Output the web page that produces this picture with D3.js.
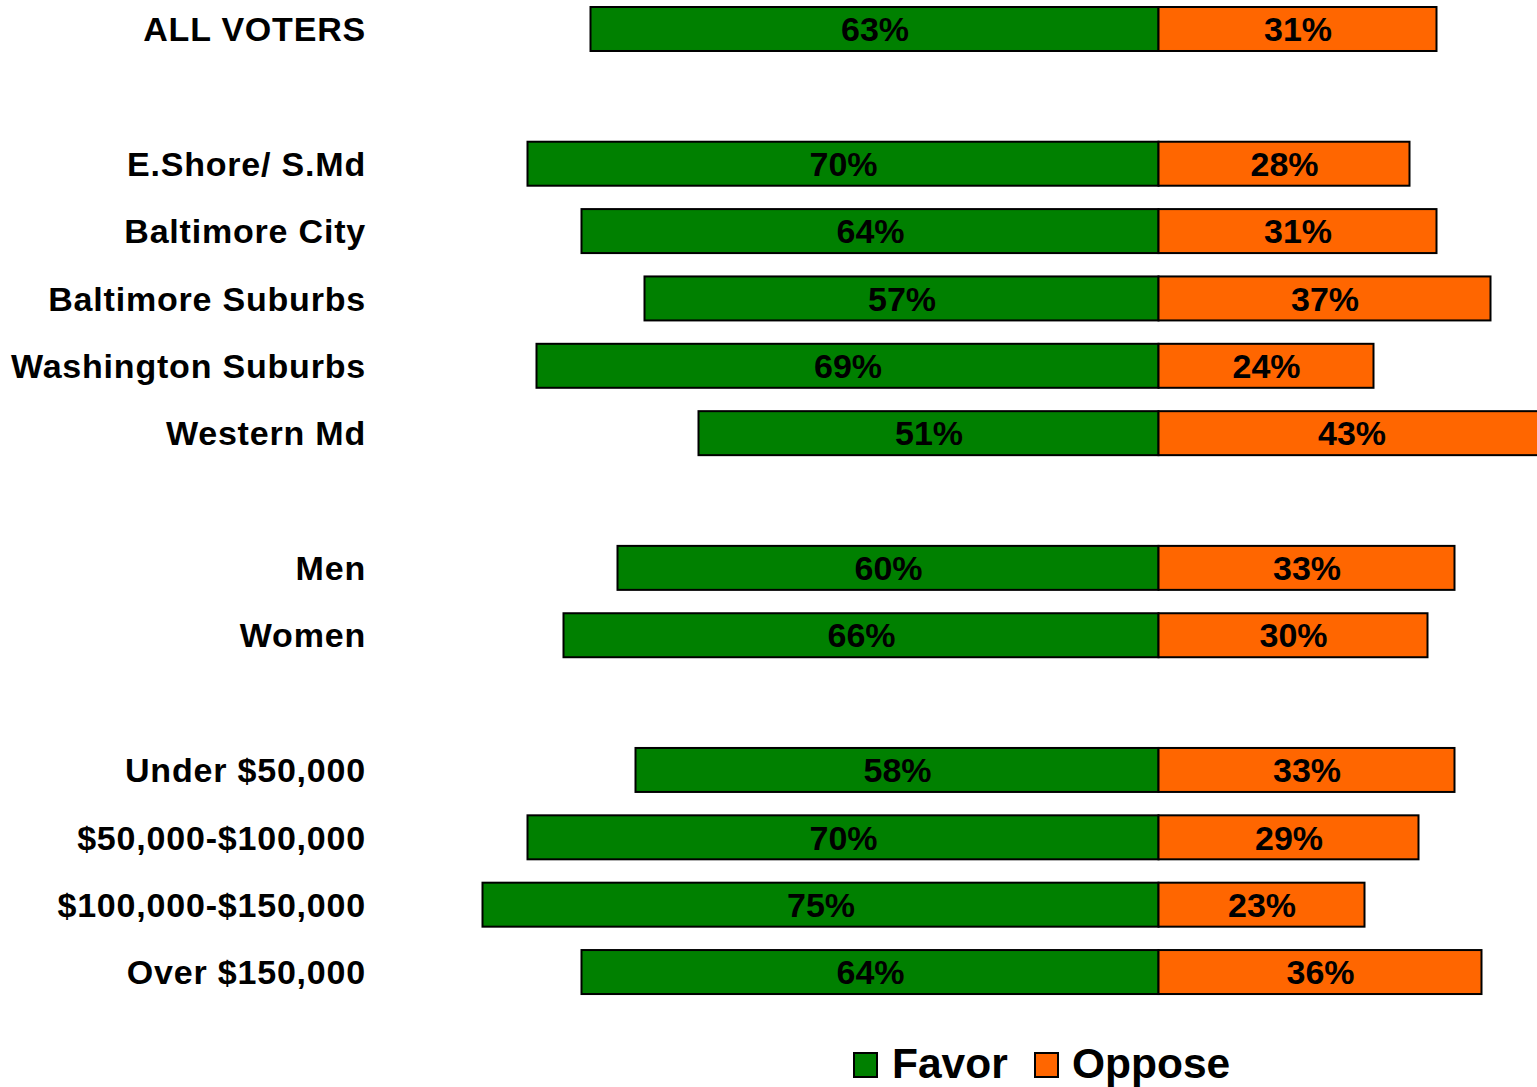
<!DOCTYPE html>
<html>
<head>
<meta charset="utf-8">
<script src="https://cdn.jsdelivr.net/npm/d3@7"></script>
<style>
  html, body { margin: 0; padding: 0; background: #fff; }
  svg { display: block; }
  text { font-family: "Liberation Sans", Arial, sans-serif; font-weight: bold; fill: #000; }
</style>
</head>
<body>
<svg id="chart" width="1537" height="1087"></svg>
<script>
// Data (null = spacer row)
const categories = ["ALL VOTERS", null, "E.Shore/ S.Md", "Baltimore City", "Baltimore Suburbs", "Washington Suburbs", "Western Md", null, "Men", "Women", null, "Under $50,000", "$50,000-$100,000", "$100,000-$150,000", "Over $150,000"];
const favor  = [63, null, 70, 64, 57, 69, 51, null, 60, 66, null, 58, 70, 75, 64];
const oppose = [31, null, 28, 31, 37, 24, 43, null, 33, 30, null, 33, 29, 23, 36];
const seriesNames = ["Favor", "Oppose"];
const seriesColors = ["#008000", "#FF6600"];

const W = 1537, H = 1087;
const svg = d3.select("#chart");

const cx = 1158.5, pxPer = 9.0;
const x = d3.scaleLinear().domain([-100, 100]).range([cx - 100 * pxPer, cx + 100 * pxPer]);

const step = 67.36;
const y = d3.scaleBand()
  .domain(d3.range(categories.length))
  .range([29 - step / 2, 29 - step / 2 + step * categories.length])
  .paddingInner(0.347)
  .paddingOuter(0.1735);

const rows = d3.range(categories.length).filter(i => categories[i] !== null);

const g = svg.append("g");

// Favor bars (extend left)
g.selectAll("rect.favor").data(rows).join("rect")
  .attr("class", "favor")
  .attr("x", i => x(-favor[i]) - 1)
  .attr("y", i => y(i))
  .attr("width", i => x(0) - x(-favor[i]) + 1)
  .attr("height", y.bandwidth())
  .attr("fill", seriesColors[0])
  .attr("stroke", "#000")
  .attr("stroke-width", 2);

// Oppose bars (extend right)
g.selectAll("rect.oppose").data(rows).join("rect")
  .attr("class", "oppose")
  .attr("x", x(0))
  .attr("y", i => y(i))
  .attr("width", i => x(oppose[i]) - x(0) - 1)
  .attr("height", y.bandwidth())
  .attr("fill", seriesColors[1])
  .attr("stroke", "#000")
  .attr("stroke-width", 2);

// Value labels
g.selectAll("text.fv").data(rows).join("text")
  .attr("class", "fv")
  .attr("x", i => (x(-favor[i]) + x(0)) / 2)
  .attr("y", i => y(i) + y.bandwidth() / 2)
  .attr("dy", "0.36em")
  .attr("text-anchor", "middle")
  .style("font-size", "34px")
  .text(i => favor[i] + "%");

g.selectAll("text.ov").data(rows).join("text")
  .attr("class", "ov")
  .attr("x", i => (x(0) + x(oppose[i])) / 2)
  .attr("y", i => y(i) + y.bandwidth() / 2)
  .attr("dy", "0.36em")
  .attr("text-anchor", "middle")
  .style("font-size", "34px")
  .text(i => oppose[i] + "%");

// Category labels
g.selectAll("text.cat").data(rows).join("text")
  .attr("class", "cat")
  .attr("x", 366)
  .attr("y", i => y(i) + y.bandwidth() / 2)
  .attr("dy", "0.36em")
  .attr("text-anchor", "end")
  .style("font-size", "34px")
  .style("letter-spacing", "0.8px")
  .text(i => categories[i]);

// Legend
const legend = svg.append("g");
const legendItems = [
  { name: seriesNames[0], color: seriesColors[0], sx: 854, tx: 892 },
  { name: seriesNames[1], color: seriesColors[1], sx: 1035, tx: 1072 }
];
legendItems.forEach(d => {
  legend.append("rect")
    .attr("x", d.sx).attr("y", 1053)
    .attr("width", 23).attr("height", 24)
    .attr("fill", d.color).attr("stroke", "#000").attr("stroke-width", 2);
  legend.append("text")
    .attr("x", d.tx).attr("y", 1063)
    .attr("dy", "0.36em")
    .style("font-size", "42.5px")
    .text(d.name);
});
</script>
</body>
</html>
